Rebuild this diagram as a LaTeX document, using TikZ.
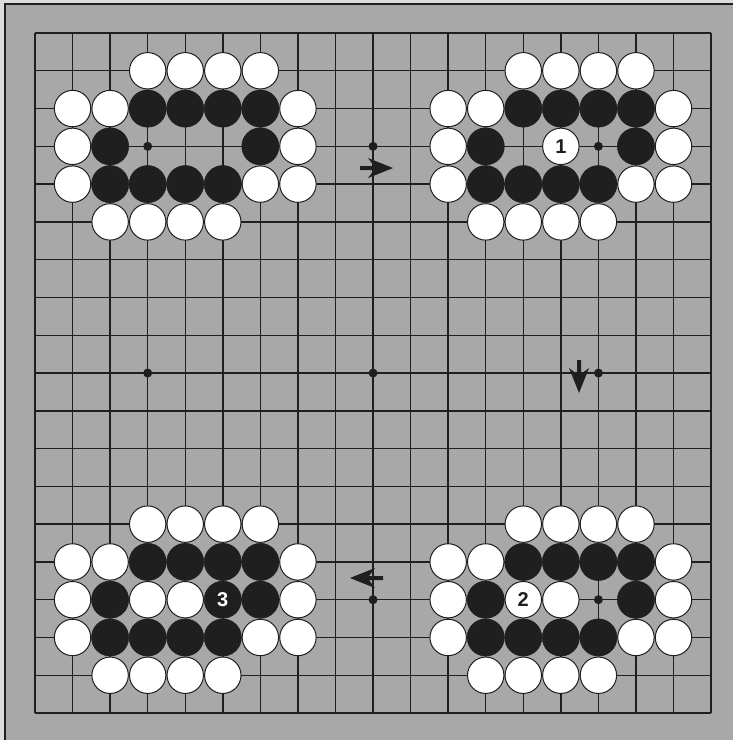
\documentclass[tikz,border=0pt]{standalone}
\usepackage{fontspec}
\setmainfont{Liberation Sans}
\definecolor{boardgray}{gray}{0.66}
\definecolor{edgegray}{gray}{0.86}
\definecolor{inkc}{gray}{0.12}
\tikzset{
  gridline/.style={draw=inkc,line width=1.4pt},
  wst/.style={circle,draw=inkc,line width=1pt,fill=white,minimum size=36.4pt,inner sep=0pt,
    font=\fontsize{20}{20}\selectfont\bfseries,text=inkc},
  bst/.style={circle,draw=inkc,line width=0.5pt,fill=inkc,minimum size=37.2pt,inner sep=0pt,
    font=\fontsize{20}{20}\selectfont\bfseries,text=white},
  hoshi/.style={circle,fill=inkc,minimum size=9pt,inner sep=0pt},
  movetip/.pic={
    \fill[inkc] (0,0) -- (-25,-10) -- (-19,-2) -- (-33,-2) -- (-33,2) -- (-19,2) -- (-25,10) -- cycle;
  }
}
\begin{document}
\begin{tikzpicture}[x=1pt,y=-1pt]
\useasboundingbox (0,0) rectangle (733,740);
\fill[edgegray] (0,0) rectangle (733,740);
\fill[boardgray] (5,4) rectangle (733,740);
\draw[inkc,line width=2pt] (5,740) -- (5,4) -- (733,4);
% coordinates of intersections
\foreach \i in {0,...,18}{
  \foreach \j in {0,...,18}{
    \coordinate (p-\i-\j) at ({35+37.56*\i},{33+37.78*\j});
  }
}
% grid
\foreach \i in {0,...,18}{
  \draw[gridline] (p-\i-0) -- (p-\i-18);
  \draw[gridline] (p-0-\i) -- (p-18-\i);
}
% star points
\foreach \i/\j in {3/3,9/3,15/3,3/9,9/9,15/9,3/15,9/15,15/15}{
  \node[hoshi] (h-\i-\j) at (p-\i-\j) {};
}
% four groups with the same shape
\foreach \ox/\oy in {0/0,10/0,0/12,10/12}{
  \foreach \c/\r in {3/1,4/1,5/1,6/1, 1/2,2/2,7/2, 1/3,7/3, 1/4,6/4,7/4, 2/5,3/5,4/5,5/5}{
    \pgfmathtruncatemacro\cx{\c+\ox}
    \pgfmathtruncatemacro\ry{\r+\oy}
    \node[wst] (w-\cx-\ry) at (p-\cx-\ry) {};
  }
  \foreach \c/\r in {3/2,4/2,5/2,6/2, 2/3,6/3, 2/4,3/4,4/4,5/4}{
    \pgfmathtruncatemacro\cx{\c+\ox}
    \pgfmathtruncatemacro\ry{\r+\oy}
    \node[bst] (b-\cx-\ry) at (p-\cx-\ry) {};
  }
}
% extra stones
\node[wst] (m1) at (p-14-3) {1};
\node[wst] (m2) at (p-13-15) {2};
\node[wst] (w-14-15) at (p-14-15) {};
\node[wst] (w-3-15) at (p-3-15) {};
\node[wst] (w-4-15) at (p-4-15) {};
\node[bst] (m3) at (p-5-15) {3};
% arrows (tips)
\coordinate (a1) at (393,168);
\coordinate (a2) at (579,393);
\coordinate (a3) at (350,578);
\pic at (a1) {movetip};
\pic[rotate=-90] at (a2) {movetip};
\pic[rotate=180] at (a3) {movetip};
\end{tikzpicture}
\end{document}
